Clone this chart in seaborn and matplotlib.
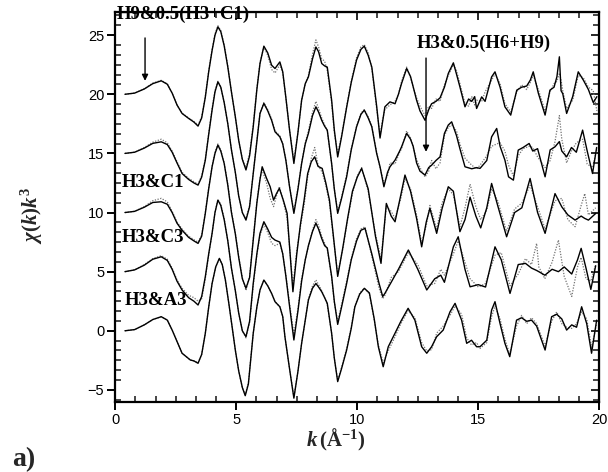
import matplotlib
matplotlib.use("Agg")
import matplotlib.pyplot as plt
from matplotlib.ticker import MultipleLocator, AutoMinorLocator
import seaborn as sns

# ---- chi(k)k^3 spectra: experiment (solid) and model (dotted), stacked by offset ----
offsets = [20, 15, 10, 5, 0]
labels = ["H9&0.5(H3+C1)", "H3&0.5(H6+H9)", "H3&C1", "H3&C3", "H3&A3"]

k_a = [0.40, 0.80, 1.20, 1.55, 1.90, 2.15, 2.35, 2.55, 2.76, 3.03, 3.25, 3.42, 3.57, 3.72, 3.86,
       4.00, 4.12, 4.24, 4.36, 4.50, 4.65, 4.80, 4.96, 5.10, 5.25, 5.40, 5.55, 5.70, 5.85, 5.98,
       6.14, 6.30, 6.46, 6.60, 6.80, 6.92, 7.05, 7.20, 7.38, 7.55, 7.70, 7.85, 7.98, 8.15, 8.29,
       8.40, 8.53, 8.65, 8.76, 8.94, 9.05, 9.19, 9.35, 9.56, 9.75, 9.97, 10.15, 10.29, 10.45, 10.60,
       10.80, 10.94, 11.04, 11.14, 11.35, 11.56, 11.70, 11.83, 12.04, 12.20, 12.31, 12.45, 12.59, 12.80, 12.95,
       13.07, 13.25, 13.42, 13.60, 13.76, 13.97, 14.10, 14.24, 14.45, 14.60, 14.73, 14.85, 14.93, 15.14, 15.28,
       15.55, 15.69, 15.90, 16.10, 16.34, 16.59, 16.79, 17.00, 17.15, 17.27, 17.48, 17.76, 17.96, 18.13, 18.25,
       18.35, 18.42, 18.49, 18.65, 18.90, 19.13, 19.34, 19.55, 19.75, 19.90]
exp_a = [0.00, 0.10, 0.45, 0.90, 1.14, 0.85, 0.10, -0.90, -1.62, -2.04, -2.35, -2.69, -2.00, -0.25, 1.90,
         3.70, 5.00, 5.70, 5.30, 4.10, 2.30, 0.20, -1.90, -3.90, -5.50, -6.40, -5.20, -2.75, 0.40, 2.60,
         4.07, 3.50, 2.46, 2.18, 2.74, 1.90, -0.30, -3.00, -5.85, -3.20, -0.50, 0.90, 1.47, 3.00, 4.00,
         3.60, 2.60, 2.40, 2.30, -0.50, -3.00, -5.30, -3.60, -1.10, 1.00, 2.90, 3.80, 4.07, 3.30, 2.30,
         -1.00, -3.70, -2.40, -1.06, -0.64, -0.80, 0.00, 0.92, 2.18, 1.50, 0.63, -0.50, -1.40, -2.20, -1.30,
         -0.80, -0.60, -0.30, 0.60, 1.76, 2.66, 1.70, 0.63, -1.06, -0.40, -0.60, -0.20, -1.20, -0.22, -0.60,
         1.47, 1.90, 0.60, -1.06, -1.76, 0.35, 0.60, 0.70, 1.20, 1.90, 0.10, -1.76, 0.35, 0.60, 1.50,
         3.17, 0.30, 0.05, -1.62, -0.20, 1.90, 1.20, 0.40, -0.70, -0.20]
fit_a = [0.00, 0.10, 0.47, 0.95, 1.18, 0.88, 0.10, -0.90, -1.60, -2.00, -2.30, -2.60, -1.90, -0.20, 2.00,
         3.80, 5.10, 5.80, 5.40, 4.20, 2.40, 0.20, -1.90, -3.90, -5.50, -6.20, -5.00, -2.60, 0.50, 2.70,
         4.00, 3.30, 2.10, 1.80, 2.50, 1.80, -0.30, -3.00, -5.60, -3.20, -0.50, 0.90, 1.60, 3.40, 4.60,
         4.00, 3.00, 2.80, 2.00, -0.70, -3.20, -5.00, -3.50, -1.00, 1.10, 3.10, 4.00, 4.20, 3.50, 2.20,
         -1.20, -3.50, -2.20, -1.30, -0.90, -0.60, 0.00, 1.10, 2.30, 1.40, 0.60, -0.30, -1.00, -1.80, -1.00,
         -1.20, -0.40, -0.60, 0.80, 1.60, 2.50, 2.00, 0.90, -0.80, -1.00, -0.20, -0.90, -0.50, -0.60, 0.20,
         1.20, 1.70, 0.90, -0.80, -1.50, 0.20, 0.80, 0.40, 1.00, 1.60, 0.40, -1.40, 0.20, 0.90, 1.10,
         1.80, 1.20, 0.30, -1.20, -0.50, 1.60, 1.40, 0.60, 0.30, -1.40]

k_b = [0.40, 0.80, 1.20, 1.55, 1.90, 2.15, 2.35, 2.55, 2.76, 3.03, 3.25, 3.42, 3.57, 3.72, 3.86,
       4.00, 4.12, 4.24, 4.36, 4.50, 4.65, 4.80, 4.96, 5.10, 5.25, 5.40, 5.55, 5.70, 5.85, 5.98,
       6.14, 6.30, 6.46, 6.60, 6.80, 6.92, 7.05, 7.20, 7.38, 7.55, 7.70, 7.85, 7.98, 8.15, 8.29,
       8.40, 8.53, 8.65, 8.76, 8.94, 9.05, 9.19, 9.35, 9.56, 9.75, 9.97, 10.15, 10.29, 10.45, 10.60,
       10.80, 10.94, 11.10, 11.25, 11.35, 11.56, 11.75, 11.83, 12.04, 12.20, 12.31, 12.45, 12.59, 12.80, 12.95,
       13.07, 13.25, 13.42, 13.60, 13.76, 13.90, 14.10, 14.24, 14.45, 14.73, 14.93, 15.07, 15.35, 15.55, 15.76,
       15.90, 16.10, 16.25, 16.45, 16.65, 16.85, 17.10, 17.25, 17.45, 17.76, 17.97, 18.17, 18.35, 18.45, 18.65,
       18.85, 19.05, 19.31, 19.50, 19.72, 19.89]
exp_b = [0.00, 0.10, 0.45, 0.85, 0.98, 0.75, 0.10, -0.80, -1.70, -2.20, -2.50, -2.68, -2.00, -0.57, 1.60,
         3.66, 5.20, 6.05, 5.60, 4.30, 2.50, 0.30, -1.60, -3.60, -5.00, -5.64, -4.50, -1.70, 1.00, 3.38,
         4.23, 3.60, 2.80, 1.83, 1.40, 0.80, -0.60, -2.80, -5.07, -3.00, -0.85, 0.80, 1.69, 3.20, 3.94,
         3.50, 2.80, 2.30, 1.97, -0.85, -3.00, -5.07, -3.80, -1.98, 0.30, 2.25, 3.30, 3.66, 3.00, 2.25,
         0.00, -1.13, -2.82, -1.60, -1.13, -0.57, 0.20, 0.56, 1.69, 1.20, 0.60, -0.80, -1.50, -1.83, -1.20,
         -1.00, -0.60, -0.29, 1.69, 2.40, 2.67, 1.50, 0.40, -1.13, -1.30, -1.20, -1.27, -0.60, 1.40, 2.11,
         0.60, -0.57, -1.98, -2.26, 0.28, 0.50, 0.84, 0.20, 0.40, -1.98, 0.30, 0.56, 1.00, 0.20, -0.29,
         0.50, 0.10, 1.97, 0.20, -1.70, 0.50]
fit_b = [0.00, 0.10, 0.50, 0.95, 1.20, 0.90, 0.20, -0.70, -1.60, -2.10, -2.40, -2.60, -1.90, -0.50, 1.70,
         3.80, 5.30, 6.10, 5.60, 4.30, 2.50, 0.30, -1.60, -3.60, -5.00, -5.50, -4.40, -1.70, 1.10, 3.40,
         4.30, 3.70, 2.90, 1.90, 1.50, 0.80, -0.50, -2.80, -4.90, -2.90, -0.80, 0.90, 1.90, 3.50, 4.40,
         3.80, 3.00, 2.40, 1.90, -0.90, -3.00, -4.90, -3.70, -1.80, 0.40, 2.30, 3.40, 3.70, 3.10, 2.30,
         0.10, -1.20, -2.50, -1.90, -0.80, -0.90, 0.10, 0.40, 1.90, 1.30, 0.50, -0.50, -1.20, -2.00, -1.50,
         -0.60, -1.30, -0.80, 1.50, 2.20, 2.40, 1.90, 0.80, -0.40, -1.00, -1.30, -1.00, -0.20, 0.60, 0.80,
         0.90, 0.20, -1.00, -1.90, -0.20, 0.40, 0.60, 0.50, -0.30, -1.20, -0.60, 1.00, 3.20, 1.20, -0.80,
         0.20, 0.90, 1.20, -0.90, -1.20, 0.30]

k_c = [0.40, 0.80, 1.20, 1.55, 1.90, 2.15, 2.35, 2.55, 2.76, 3.03, 3.25, 3.42, 3.57, 3.72, 3.86,
       4.00, 4.12, 4.24, 4.36, 4.50, 4.65, 4.80, 4.96, 5.10, 5.25, 5.40, 5.55, 5.70, 5.85, 5.98,
       6.07, 6.25, 6.40, 6.54, 6.66, 6.78, 6.95, 7.10, 7.34, 7.50, 7.65, 7.80, 7.95, 8.10, 8.24,
       8.38, 8.55, 8.70, 8.85, 9.00, 9.19, 9.40, 9.60, 9.80, 10.00,
       10.18, 10.45, 10.75, 10.98, 11.20, 11.40, 11.56, 11.80, 11.97, 12.20,
       12.45, 12.66, 12.85, 13.00, 13.28, 13.50, 13.76, 13.97, 14.24, 14.45,
       14.66, 14.90, 15.10, 15.35, 15.55, 15.80, 16.17, 16.50, 16.80, 17.14,
       17.45, 17.76, 18.17, 18.45, 18.70, 19.00, 19.25, 19.40, 19.55, 19.85]
exp_c = [0.00, 0.10, 0.45, 0.85, 0.91, 0.70, 0.00, -0.90, -1.50, -2.10, -2.40, -2.61, -2.00, -0.07, 2.00,
         3.87, 5.00, 5.70, 5.20, 4.15, 2.30, 0.00, -1.80, -3.80, -5.60, -6.40, -5.50, -2.33, 0.80, 2.80,
         3.87, 2.90, 2.18, 1.05, 1.60, 2.04, 1.00, -0.07, -6.70, -3.50, -1.00, 1.00, 3.30, 4.30, 4.71,
         3.90, 3.73, 2.50, 1.05, -1.76, -5.40, -3.00, -0.50, 1.80, 3.00,
         3.73, 2.00, -2.00, -4.30, 0.77, -0.30, -0.78, 1.50, 3.17, 1.80,
         -0.50, -2.90, -0.80, 0.35, -1.76, 0.30, 2.18, 1.80, -1.62, -0.60,
         1.30, -0.30, -1.30, 0.40, 2.46, 0.60, -2.05, 0.00, 0.40, 2.88,
         0.00, -1.76, 1.60, 0.48, -0.20, -0.64, -0.30, -0.50, -0.64, -0.08]
fit_c = [0.00, 0.10, 0.50, 1.00, 1.20, 0.90, 0.10, -0.80, -1.40, -2.00, -2.30, -2.50, -1.90, 0.00, 2.10,
         3.90, 5.10, 5.80, 5.30, 4.20, 2.40, 0.10, -1.70, -3.70, -5.50, -6.60, -5.40, -2.20, 0.90, 2.90,
         3.60, 2.50, 1.20, 0.50, 1.40, 2.20, 0.90, -0.50, -6.20, -3.20, -1.20, 0.60, 3.00, 4.60, 5.50,
         4.00, 3.40, 2.30, 0.80, -1.90, -5.20, -3.10, -0.60, 1.60, 3.10,
         3.80, 1.80, -1.80, -3.90, 0.50, 0.10, -0.50, 1.20, 2.90, 2.00,
         -0.20, -2.60, -1.10, 0.60, -1.40, 0.80, 2.00, 1.50, -1.20, 0.40,
         2.40, 0.50, -0.60, 0.20, 2.00, 1.00, -1.60, 0.30, 0.80, 2.30,
         0.50, -1.40, 1.00, 1.20, -0.60, -1.20, 0.60, 1.60, -0.20, 0.40]

k_d = [0.40, 0.80, 1.20, 1.55, 1.90, 2.15, 2.35, 2.55, 2.76, 3.03, 3.25, 3.42, 3.57, 3.72, 3.86,
       4.00, 4.12, 4.24, 4.36, 4.50, 4.65, 4.80, 4.96, 5.10, 5.25, 5.40, 5.55, 5.70, 5.85, 5.98,
       6.14, 6.30, 6.46, 6.60, 6.80, 6.92, 7.05, 7.20, 7.38, 7.55, 7.70, 7.85, 7.98, 8.15, 8.29,
       8.40, 8.53, 8.65, 8.76, 8.94, 9.05, 9.19, 9.35, 9.56, 9.75, 9.97, 10.15,
       10.32, 10.60, 10.90, 11.05, 11.14, 11.40, 11.70, 12.11, 12.50, 12.87,
       13.20, 13.45, 13.60, 13.97, 14.17, 14.45, 14.66, 15.00, 15.30, 15.69,
       15.95, 16.31, 16.65, 16.95, 17.20, 17.41, 17.50, 17.75, 18.05, 18.31,
       18.55, 18.86, 19.10, 19.25, 19.45, 19.65, 19.85]
exp_d = [0.00, 0.15, 0.55, 1.05, 1.26, 0.95, 0.20, -0.80, -1.55, -2.20, -2.50, -2.82, -2.10, -0.43, 1.50,
         3.24, 5.00, 6.05, 5.60, 4.40, 2.60, 0.30, -1.60, -3.50, -5.00, -5.50, -4.20, -1.00, 1.50, 3.24,
         4.22, 3.60, 2.90, 2.67, 2.50, 1.50, -0.40, -2.90, -5.78, -3.30, -0.80, 1.00, 2.20, 3.40, 4.10,
         3.60, 2.80, 2.20, 2.00, -0.40, -2.50, -4.46, -3.00, -1.00, 1.00, 2.60, 3.50,
         3.66, 1.50, -1.00, -2.10, -1.84, -0.90, 0.20, 1.83, 0.20, -1.55,
         -0.60, -0.30, -0.90, 2.10, 2.95, 0.20, -1.28, -1.10, -1.30, 2.10,
         1.00, -1.84, 0.60, 0.70, 0.30, 0.10, 0.00, -0.30, 0.20, 0.00,
         0.40, -0.20, 1.00, 1.97, 0.30, -1.50, 0.50]
fit_d = [0.00, 0.15, 0.60, 1.10, 1.35, 1.05, 0.30, -0.70, -1.40, -2.00, -2.20, -2.50, -2.30, -0.60, 1.40,
         3.20, 5.00, 6.10, 5.70, 4.50, 2.60, 0.30, -1.60, -3.50, -5.00, -5.60, -4.30, -1.20, 1.40, 3.10,
         4.00, 3.30, 2.40, 2.20, 2.40, 1.50, -0.30, -2.70, -5.30, -3.10, -0.60, 1.00, 2.10, 3.50, 4.40,
         3.90, 3.00, 2.40, 1.90, -0.50, -2.60, -4.20, -2.80, -0.80, 1.10, 2.80, 3.60,
         3.80, 1.30, -1.40, -2.30, -2.00, -0.50, 0.00, 1.60, 0.60, -1.20,
         -1.00, 0.20, -0.30, 1.50, 2.60, 0.80, -0.60, -1.30, -1.00, 1.40,
         1.60, -1.20, -0.20, 1.10, 0.60, 2.39, 0.40, -0.60, 0.80, 2.67,
         -0.40, -2.10, 0.40, 1.20, -0.60, -0.80, 0.60]

k_e = [0.40, 0.80, 1.20, 1.55, 1.90, 2.15, 2.35, 2.55, 2.76, 3.10, 3.25, 3.42, 3.57, 3.72, 3.86,
       4.00, 4.15, 4.30, 4.42, 4.55, 4.70, 4.83, 4.96, 5.10, 5.25, 5.37, 5.50, 5.70, 5.85, 5.98,
       6.14, 6.30, 6.46, 6.60, 6.80, 6.92, 7.01, 7.20, 7.38, 7.55, 7.70, 7.85, 7.98, 8.15, 8.29,
       8.40, 8.53, 8.65, 8.76, 8.94, 9.05, 9.19, 9.35, 9.56, 9.75, 9.90, 10.10, 10.29, 10.50, 10.70,
       10.87, 11.07, 11.28, 11.56, 11.80, 12.10, 12.38, 12.66, 12.87, 13.07, 13.28, 13.55, 13.83, 14.04, 14.31,
       14.52, 14.72, 14.93, 15.07, 15.35, 15.55, 15.69, 15.90, 16.10, 16.30, 16.58, 16.79, 17.00, 17.20, 17.41,
       17.76, 18.03, 18.24, 18.45, 18.65, 18.86, 19.06, 19.27, 19.48, 19.68, 19.89]
exp_e = [0.00, 0.10, 0.50, 0.95, 1.19, 0.90, 0.06, -0.90, -1.90, -2.47, -2.55, -2.75, -2.00, -0.22, 2.00,
         4.00, 5.40, 6.12, 5.60, 4.29, 2.20, 0.30, -1.63, -3.40, -4.80, -5.49, -4.50, -0.22, 2.00, 3.45,
         4.29, 3.80, 3.16, 2.46, 2.03, 1.20, -0.50, -3.20, -5.70, -3.40, -1.06, 0.90, 2.60, 3.60, 4.00,
         3.70, 3.30, 2.80, 2.32, -0.22, -2.30, -4.30, -3.20, -1.63, 0.20, 2.03, 3.10, 3.59, 3.20, 1.00,
         -1.35, -3.04, -1.35, -0.20, 0.80, 1.90, 0.90, -1.35, -1.90, -1.35, -0.50, 0.06, 1.60, 2.32, 0.90,
         -1.06, -0.80, -1.35, -1.35, -0.80, 1.75, 2.46, 0.60, -1.06, -2.19, 0.90, 1.10, 0.80, 0.90, 0.40,
         -1.63, 1.19, 1.40, 1.00, 0.06, 0.50, 0.30, 2.03, 0.60, -1.90, 0.90]
fit_e = [0.00, 0.10, 0.50, 0.95, 1.19, 0.90, 0.06, -0.90, -1.90, -2.47, -2.55, -2.70, -2.00, -0.22, 2.00,
         4.00, 5.40, 6.12, 5.60, 4.29, 2.20, 0.30, -1.63, -3.40, -4.80, -5.40, -4.40, -0.22, 2.00, 3.45,
         4.29, 3.80, 3.16, 2.46, 2.03, 1.20, -0.50, -3.20, -5.60, -3.40, -1.06, 0.90, 2.70, 3.80, 4.30,
         3.90, 3.40, 2.80, 2.20, -0.22, -2.30, -4.20, -3.10, -1.50, 0.30, 2.10, 3.20, 3.60, 3.10, 0.90,
         -1.20, -2.70, -1.70, -0.50, 0.60, 1.70, 1.10, -1.00, -1.70, -1.60, -0.20, 0.40, 1.30, 2.10, 1.40,
         -0.60, -1.20, -1.00, -1.50, -1.00, 1.20, 2.10, 1.00, -0.70, -2.00, 0.40, 1.30, 0.60, 1.10, 0.60,
         -1.30, 0.80, 1.60, 0.60, 0.30, 0.20, 0.60, 1.60, 1.00, -1.40, 0.60]

ks = [k_a, k_b, k_c, k_d, k_e]
exps = [exp_a, exp_b, exp_c, exp_d, exp_e]
fits = [fit_a, fit_b, fit_c, fit_d, fit_e]

sns.set_style("ticks")
plt.rcParams["font.family"] = ["Liberation Sans", "DejaVu Sans"]
plt.rcParams["mathtext.fontset"] = "custom"
plt.rcParams["mathtext.rm"] = "Liberation Serif:bold"
plt.rcParams["mathtext.it"] = "Liberation Serif:bold:italic"
plt.rcParams["mathtext.bf"] = "Liberation Serif:bold"

fig = plt.figure(figsize=(6.08, 4.72), dpi=100)
ax = fig.add_axes([0.1896, 0.1489, 0.7961, 0.8267])

for k, e, f, off in zip(ks, exps, fits, offsets):
    sns.lineplot(x=k, y=[v + off for v in f], ax=ax, color="0.45", lw=0.9,
                 linestyle=(0, (1, 1.2)), sort=False, estimator=None)
    sns.lineplot(x=k, y=[v + off for v in e], ax=ax, color="black", lw=1.0,
                 sort=False, estimator=None)

ax.set_xlim(0, 20)
ax.set_ylim(-6, 27)
ax.xaxis.set_major_locator(MultipleLocator(5))
ax.yaxis.set_major_locator(MultipleLocator(5))
ax.xaxis.set_minor_locator(AutoMinorLocator(6))
ax.yaxis.set_minor_locator(AutoMinorLocator(6))
ax.tick_params(which="major", direction="out", length=6, width=1.4, labelsize=10.5,
               pad=2, colors="black")
ax.tick_params(which="minor", direction="in", length=4, width=1.2)
for sp in ax.spines.values():
    sp.set_linewidth(1.6)
    sp.set_color("black")
ax.set_xlabel("")
ax.set_ylabel("")

# inward ticks on top and right
top = ax.secondary_xaxis("top")
top.xaxis.set_major_locator(MultipleLocator(5))
top.xaxis.set_minor_locator(AutoMinorLocator(6))
top.tick_params(which="major", direction="in", length=6, width=1.4, labeltop=False)
top.tick_params(which="minor", direction="in", length=4, width=1.2)
right = ax.secondary_yaxis("right")
right.yaxis.set_major_locator(MultipleLocator(5))
right.yaxis.set_minor_locator(AutoMinorLocator(6))
right.tick_params(which="major", direction="in", length=6, width=1.4, labelright=False)
right.tick_params(which="minor", direction="in", length=4, width=1.2)

lab_font = dict(family="Liberation Serif", weight="bold", size=13.5, color="black")
ax.text(0.07, 26.8, labels[0], ha="left", va="center", clip_on=False, **lab_font)
ax.text(12.46, 24.3, labels[1], ha="left", va="center", **lab_font)
ax.text(0.28, 12.5, labels[2], ha="left", va="center", **lab_font)
ax.text(0.28, 7.85, labels[3], ha="left", va="center", **lab_font)
ax.text(0.40, 2.6, labels[4], ha="left", va="center", **lab_font)

arrow = dict(arrowstyle="-|>", color="black", lw=1.0, mutation_scale=9)
ax.annotate("", xy=(1.23, 20.9), xytext=(1.23, 25.0), arrowprops=arrow)
ax.annotate("", xy=(12.84, 14.9), xytext=(12.84, 23.3), arrowprops=arrow)

fig.text(336 / 608, 1 - 440 / 472, r"$k\,(\mathrm{Å}^{-1})$", ha="center", va="center",
         fontsize=15)
fig.text(32 / 608, 1 - 215 / 472, r"$\chi(k)k^{3}$", ha="center", va="center",
         rotation=90, fontsize=15)
fig.text(12 / 608, 1 - 466 / 472, "a)", ha="left", va="baseline", fontsize=20,
         family="Liberation Serif", weight="bold")

fig.savefig("out.png", dpi=100)
